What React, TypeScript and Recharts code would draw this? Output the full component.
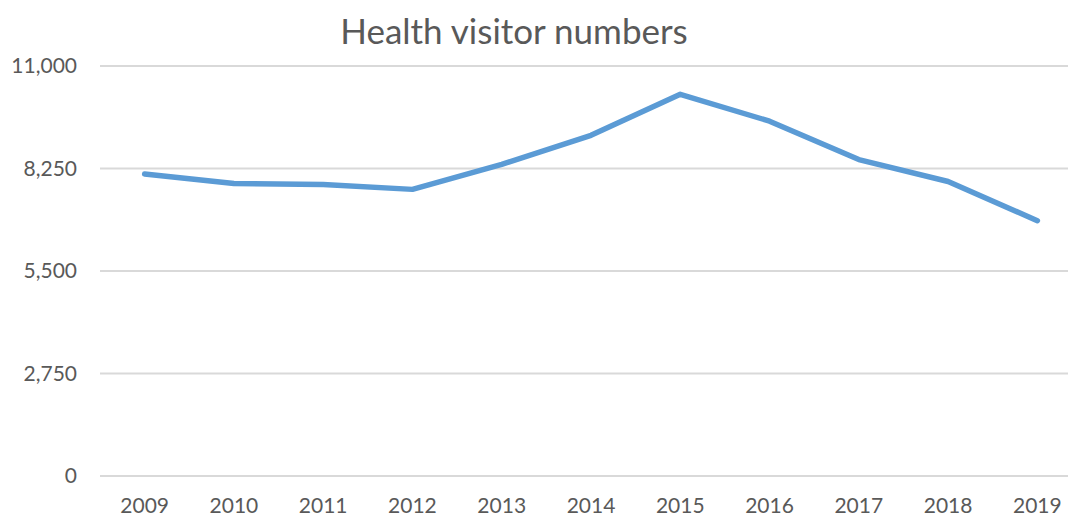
import { LineChart, Line, XAxis, YAxis, CartesianGrid } from "recharts";

const years = ["2009", "2010", "2011", "2012", "2013", "2014", "2015", "2016", "2017", "2018", "2019"];
const visitors = [8100, 7850, 7820, 7690, 8360, 9140, 10240, 9520, 8490, 7900, 6850];
const yTicks = [0, 2750, 5500, 8250, 11000];

const data = years.map((year, i) => ({ year, visitors: visitors[i] }));

const textColor = "#595959";
const font = "Lato, 'Open Sans', sans-serif";

export default function App() {
  return (
    <div
      style={{
        position: "absolute",
        left: 0,
        top: 0,
        width: 1068,
        height: 516,
        overflow: "hidden",
        background: "#fff",
        fontFamily: font,
      }}
    >
      <div
        style={{
          position: "absolute",
          left: 0,
          top: 10,
          width: 1028,
          textAlign: "center",
          fontSize: 35,
          color: textColor,
          lineHeight: "40px",
        }}
      >
        Health visitor numbers
      </div>
      <LineChart
        width={1090}
        height={516}
        data={data}
        margin={{ top: 66, right: 8, bottom: 0, left: 0 }}
      >
        <CartesianGrid vertical={false} stroke="#d9d9d9" strokeWidth={2} />
        <XAxis
          dataKey="year"
          height={40}
          axisLine={false}
          tickLine={false}
          tickSize={0}
          tickMargin={22}
          padding={{ left: 0, right: 0 }}
          tick={{ fill: textColor, fontSize: 21, fontFamily: font }}
          interval={0}
          scale="band"
        />
        <YAxis
          width={100}
          domain={[0, 11000]}
          ticks={yTicks}
          axisLine={false}
          tickLine={false}
          tickSize={0}
          tickMargin={23}
          tickFormatter={(v: number) => v.toLocaleString("en-US")}
          tick={{ fill: textColor, fontSize: 21, fontFamily: font }}
        />
        <Line
          type="linear"
          dataKey="visitors"
          stroke="#5b9bd5"
          strokeWidth={5.5}
          strokeLinecap="round"
          strokeLinejoin="round"
          dot={false}
          activeDot={false}
          isAnimationActive={false}
        />
      </LineChart>
    </div>
  );
}
